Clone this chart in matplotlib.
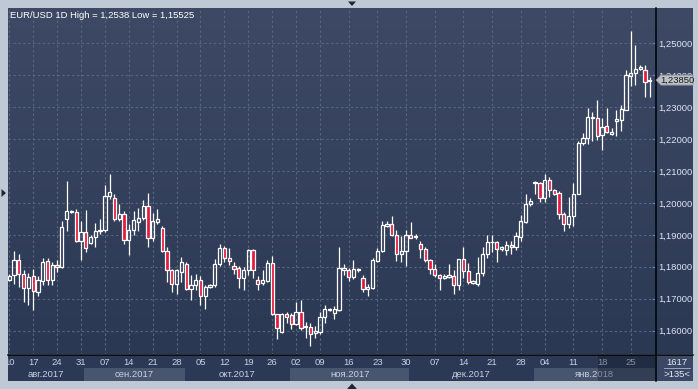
import numpy as np
import matplotlib
matplotlib.use("Agg")
from matplotlib import pyplot as plt
from matplotlib.colors import LinearSegmentedColormap
from matplotlib.patches import Polygon
from matplotlib.lines import Line2D

# EUR/USD daily candles, 10 Aug 2017 .. 29 Jan 2018
opens = [1.1760, 1.1773, 1.1822, 1.1778, 1.1735, 1.1771, 1.1721, 1.1754, 1.1817, 1.1760,
         1.1806, 1.1799, 1.1949, 1.1972, 1.1972, 1.1880, 1.1908, 1.1875, 1.1893, 1.1912,
         1.1914, 1.2021, 1.2016, 1.1949, 1.1966, 1.1884, 1.1916, 1.1941, 1.1953, 1.1992,
         1.1889, 1.1940, 1.1922, 1.1848, 1.1791, 1.1745, 1.1783, 1.1809, 1.1731, 1.1744,
         1.1759, 1.1710, 1.1737, 1.1742, 1.1809, 1.1859, 1.1828, 1.1803, 1.1797, 1.1766,
         1.1789, 1.1853, 1.1759, 1.1749, 1.1757, 1.1812, 1.1651, 1.1597, 1.1652, 1.1648,
         1.1620, 1.1659, 1.1613, 1.1612, 1.1592, 1.1597, 1.1644, 1.1666, 1.1656, 1.1665,
         1.1789, 1.1791, 1.1768, 1.1790, 1.1766, 1.1729, 1.1734, 1.1818, 1.1849, 1.1929,
         1.1934, 1.1901, 1.1841, 1.1851, 1.1900, 1.1893, 1.1870, 1.1856, 1.1822, 1.1793,
         1.1773, 1.1766, 1.1769, 1.1772, 1.1743, 1.1824, 1.1787, 1.1749, 1.1745, 1.1779,
         1.1840, 1.1877, 1.1879, 1.1856, 1.1853, 1.1869, 1.1861, 1.1893, 1.1940, 1.1998,
         1.2062, 1.2061, 1.2014, 1.2071, 1.2042, 1.2032, 1.1966, 1.1935, 1.1958, 1.2029,
         1.2187, 1.2203, 1.2265, 1.2266, 1.2212, 1.2240, 1.2217, 1.2258, 1.2260, 1.2292,
         1.2398, 1.2406, 1.2419, 1.2417, 1.2383]
highs = [1.1776, 1.1849, 1.1839, 1.1790, 1.1779, 1.1792, 1.1772, 1.1828, 1.1828, 1.1815,
         1.1820, 1.1943, 1.2070, 1.1978, 1.1981, 1.1945, 1.1978, 1.1899, 1.1936, 1.1950,
         1.2057, 1.2091, 1.2028, 1.1997, 1.1976, 1.1935, 1.1974, 1.1984, 1.2009, 1.2030,
         1.1970, 1.1981, 1.1929, 1.1862, 1.1794, 1.1794, 1.1832, 1.1815, 1.1773, 1.1778,
         1.1770, 1.1742, 1.1747, 1.1825, 1.1872, 1.1866, 1.1860, 1.1815, 1.1804, 1.1799,
         1.1856, 1.1856, 1.1770, 1.1791, 1.1820, 1.1835, 1.1653, 1.1656, 1.1659, 1.1654,
         1.1690, 1.1696, 1.1628, 1.1623, 1.1614, 1.1657, 1.1680, 1.1672, 1.1677, 1.1861,
         1.1810, 1.1797, 1.1820, 1.1797, 1.1773, 1.1747, 1.1828, 1.1858, 1.1945, 1.1945,
         1.1960, 1.1914, 1.1898, 1.1914, 1.1940, 1.1903, 1.1880, 1.1861, 1.1825, 1.1810,
         1.1778, 1.1776, 1.1808, 1.1790, 1.1824, 1.1863, 1.1812, 1.1758, 1.1832, 1.1861,
         1.1901, 1.1899, 1.1882, 1.1866, 1.1882, 1.1880, 1.1908, 1.1961, 1.2027, 1.2014,
         1.2068, 1.2066, 1.2091, 1.2080, 1.2045, 1.2037, 1.1973, 1.2019, 1.2061, 1.2193,
         1.2219, 1.2298, 1.2286, 1.2323, 1.2266, 1.2297, 1.2234, 1.2292, 1.2307, 1.2417,
         1.2538, 1.2495, 1.2432, 1.2432, 1.2396]
lows = [1.1756, 1.1747, 1.1737, 1.1690, 1.1680, 1.1664, 1.1708, 1.1742, 1.1742, 1.1742,
        1.1783, 1.1795, 1.1913, 1.1968, 1.1877, 1.1822, 1.1846, 1.1872, 1.1863, 1.1903,
        1.1909, 1.2013, 1.1945, 1.1945, 1.1870, 1.1836, 1.1901, 1.1913, 1.1947, 1.1861,
        1.1880, 1.1935, 1.1846, 1.1752, 1.1720, 1.1716, 1.1752, 1.1726, 1.1695, 1.1726,
        1.1680, 1.1669, 1.1734, 1.1737, 1.1804, 1.1815, 1.1805, 1.1776, 1.1734, 1.1728,
        1.1773, 1.1766, 1.1726, 1.1742, 1.1752, 1.1648, 1.1575, 1.1594, 1.1623, 1.1604,
        1.1618, 1.1602, 1.1576, 1.15525, 1.1578, 1.1589, 1.1623, 1.1662, 1.1635, 1.1662,
        1.1775, 1.1756, 1.1763, 1.1783, 1.1721, 1.1710, 1.1731, 1.1815, 1.1846, 1.1924,
        1.1895, 1.1818, 1.1815, 1.1804, 1.1889, 1.1888, 1.1828, 1.1815, 1.1778, 1.1768,
        1.1726, 1.1763, 1.1766, 1.1714, 1.1726, 1.1766, 1.1746, 1.1746, 1.1740, 1.1772,
        1.1827, 1.1845, 1.1814, 1.1851, 1.1838, 1.1840, 1.1853, 1.1882, 1.1937, 1.1992,
        1.2028, 1.2003, 1.2003, 1.2019, 1.2024, 1.1951, 1.1913, 1.1922, 1.1927, 1.2027,
        1.2182, 1.2186, 1.2193, 1.2196, 1.2165, 1.2219, 1.2214, 1.2210, 1.2224, 1.2290,
        1.2365, 1.2370, 1.2417, 1.2333, 1.2333]
closes = [1.1772, 1.1822, 1.1778, 1.1734, 1.1767, 1.1723, 1.1759, 1.1815, 1.1760, 1.1806,
          1.1799, 1.1924, 1.1974, 1.1975, 1.1880, 1.1908, 1.1859, 1.1892, 1.1911, 1.1916,
          1.2023, 1.2035, 1.1949, 1.1966, 1.1884, 1.1916, 1.1947, 1.1953, 1.1992, 1.1889,
          1.1943, 1.1950, 1.1848, 1.1791, 1.1745, 1.1789, 1.1815, 1.1731, 1.1744, 1.1759,
          1.1710, 1.1736, 1.1742, 1.1809, 1.1859, 1.1828, 1.1818, 1.1793, 1.1766, 1.1789,
          1.1853, 1.1791, 1.1747, 1.1759, 1.1812, 1.1651, 1.1609, 1.1652, 1.1643, 1.1620,
          1.1659, 1.1607, 1.1612, 1.1589, 1.1599, 1.1644, 1.1667, 1.1668, 1.1669, 1.1795,
          1.1795, 1.1768, 1.1794, 1.1794, 1.1729, 1.1738, 1.1820, 1.1851, 1.1931, 1.1934,
          1.1901, 1.1839, 1.1851, 1.1901, 1.1891, 1.1897, 1.1856, 1.1822, 1.1793, 1.1773,
          1.1766, 1.1772, 1.1775, 1.1743, 1.1824, 1.1787, 1.1751, 1.1754, 1.1779, 1.1840,
          1.1879, 1.1879, 1.1856, 1.1861, 1.1869, 1.1861, 1.1895, 1.1943, 1.1998, 1.2006,
          1.2065, 1.2014, 1.2071, 1.2042, 1.2029, 1.1966, 1.1935, 1.1958, 1.2029, 1.2187,
          1.2203, 1.2270, 1.2269, 1.2211, 1.2237, 1.2221, 1.2221, 1.2263, 1.2294, 1.2401,
          1.2408, 1.2419, 1.2425, 1.2380, 1.2385]
last_price = 1.23850

week_pos = [0, 5, 10, 15, 20, 25, 30, 35, 40, 45, 50, 55, 60, 65, 71, 77, 83, 89, 95,
            101, 107, 112, 118, 124, 130]
week_labels = ['10', '17', '24', '31', '07', '14', '21', '28', '05', '12', '19', '26', '02',
               '09', '16', '23', '30', '07', '14', '21', '28', '04', '11', '18', '25']
month_starts = [16, 37, 59, 84, 110]
month_labels = ['авг.2017', 'сен.2017', 'окт.2017', 'ноя.2017', 'дек.2017', 'янв.2018']
price_ticks = [1.16, 1.17, 1.18, 1.19, 1.20, 1.21, 1.22, 1.23, 1.24, 1.25]

W, H = 698, 389
plt.rcParams['font.family'] = ['Liberation Sans', 'DejaVu Sans']
FS = 6.8
XL = (-0.27, 135.08)


def rect(x0, y0, x1, y1):
    # pixel box (top-left origin) -> figure fraction
    return [x0 / W, 1 - y1 / H, (x1 - x0) / W, (y1 - y0) / H]


fig = plt.figure(figsize=(W / 100, H / 100), dpi=100, facecolor='#bfc8d5')

# gradient background of the chart panel
bg = fig.add_axes(rect(8, 8, 693, 354.5))
cmap = LinearSegmentedColormap.from_list('panel', ['#3e4a65', '#2b3854'])
bg.imshow(np.linspace(0, 1, 256).reshape(-1, 1), aspect='auto', cmap=cmap,
          extent=[0, 1, 0, 1], origin='upper')
bg.set_axis_off()

ax = fig.add_axes(rect(8, 8, 655, 354.5))
ax.set_facecolor('none')

x = np.arange(len(opens))
o = np.array(opens)
hi = np.array(highs)
lo = np.array(lows)
c = np.array(closes)
top = np.maximum(o, c)
bot = np.minimum(o, c)
up = c >= o

grid_kw = dict(color='#56657f', lw=0.8, ls=(0, (2.2, 2.2)), zorder=1)
for p in price_ticks:
    ax.axhline(p, **grid_kw)
for w in week_pos:
    ax.axvline(w, **grid_kw)

ax.vlines(x, top, hi, color='white', lw=0.9, zorder=3)
ax.vlines(x, lo, bot, color='white', lw=0.9, zorder=3)
ax.bar(x[up], (top - bot)[up], bottom=bot[up], width=0.68, facecolor='none',
       edgecolor='white', lw=0.9, zorder=4)
ax.bar(x[~up], (top - bot)[~up], bottom=bot[~up], width=0.68, facecolor='#e41b3c',
       edgecolor='white', lw=0.9, zorder=4)

ax.set_xlim(*XL)
ax.set_ylim(1.15251, 1.2611)
ax.yaxis.tick_right()
ax.set_yticks(price_ticks)
ax.set_yticklabels([f'{p:.5f}'.replace('.', ',') for p in price_ticks])
ax.tick_params(axis='y', direction='in', length=2, width=0.8, color='#4d86da', pad=2.5,
               labelsize=FS, labelcolor='#dde5f2')
ax.set_xticks([])
for s in ax.spines.values():
    s.set_visible(False)

fig.text(10 / W, 1 - 15 / H, 'EUR/USD 1D High = 1,2538 Low = 1,15525', color='white',
         fontsize=FS, va='center', ha='left')

# last price tag
ty = ax.transData.transform((0, last_price))[1]
tag = [(656, ty), (661, ty + 5), (693, ty + 5), (693, ty - 5), (661, ty - 5)]
fig.add_artist(Polygon([(px / W, py / H) for px, py in tag], closed=True,
                       transform=fig.transFigure, facecolor='#bcc0c7', edgecolor='#8a9099',
                       lw=0.6, zorder=10))
fig.text(677 / W, ty / H, f'{last_price:.5f}'.replace('.', ','), color='#1c1c1c',
         fontsize=FS, ha='center', va='center', zorder=11)

# date axis
axd = fig.add_axes(rect(8, 354.5, 655, 380.5), sharex=ax)
axd.set_facecolor('#2c3956')
axd.set_ylim(0, 1)
axd.set_yticks([])
for s in axd.spines.values():
    s.set_visible(False)
edges = [XL[0]] + [m - 0.3 for m in month_starts] + [XL[1]]
for k in range(len(month_labels)):
    if k % 2 == 1:
        axd.axvspan(edges[k], edges[k + 1], ymin=0, ymax=12.5 / 26, color='#47556f', lw=0)
    axd.text((edges[k] + edges[k + 1]) / 2, 0.24, month_labels[k], color='#c6d0e0',
             fontsize=FS, ha='center', va='center')
for w, lab in zip(week_pos, week_labels):
    axd.text(w, 0.70, lab, color='#c6d0e0', fontsize=FS, ha='center', va='center',
             clip_on=True)
axd.axvspan((598 - 9.3) / 4.78, XL[1], color='#0c1424', alpha=0.35, lw=0, zorder=5)
ax.set_xlim(*XL)

# bar counter box
axb = fig.add_axes(rect(655, 354.5, 693, 380.5))
axb.set_facecolor('#3a4866')
axb.set_xticks([])
axb.set_yticks([])
for s in axb.spines.values():
    s.set_visible(False)
axb.text(0.58, 0.70, '1617', color='#e2e8f2', fontsize=FS, ha='center', va='center',
         transform=axb.transAxes)
axb.plot([0.24, 0.92], [0.47, 0.47], color='#aab4c4', lw=0.6, transform=axb.transAxes)
axb.text(0.58, 0.24, '>135<', color='#e2e8f2', fontsize=FS, ha='center', va='center',
         transform=axb.transAxes)

# black separators
fig.add_artist(Line2D([655.5 / W, 655.5 / W], [1 - 8 / H, 1 - 380.5 / H], color='black', lw=1.1))
fig.add_artist(Line2D([8 / W, 693 / W], [1 - 354.5 / H, 1 - 354.5 / H], color='black', lw=1.1))

# small frame arrows
for tri in ([(348, 1.5), (356, 1.5), (352, 6)],
            [(347, 389), (357, 389), (352, 383.5)],
            [(1.5, 189), (1.5, 197), (6, 193)]):
    fig.add_artist(Polygon([(px / W, 1 - py / H) for px, py in tri], closed=True,
                           transform=fig.transFigure, facecolor='#1f2734', lw=0))

fig.savefig('out.png', dpi=100, facecolor=fig.get_facecolor())
